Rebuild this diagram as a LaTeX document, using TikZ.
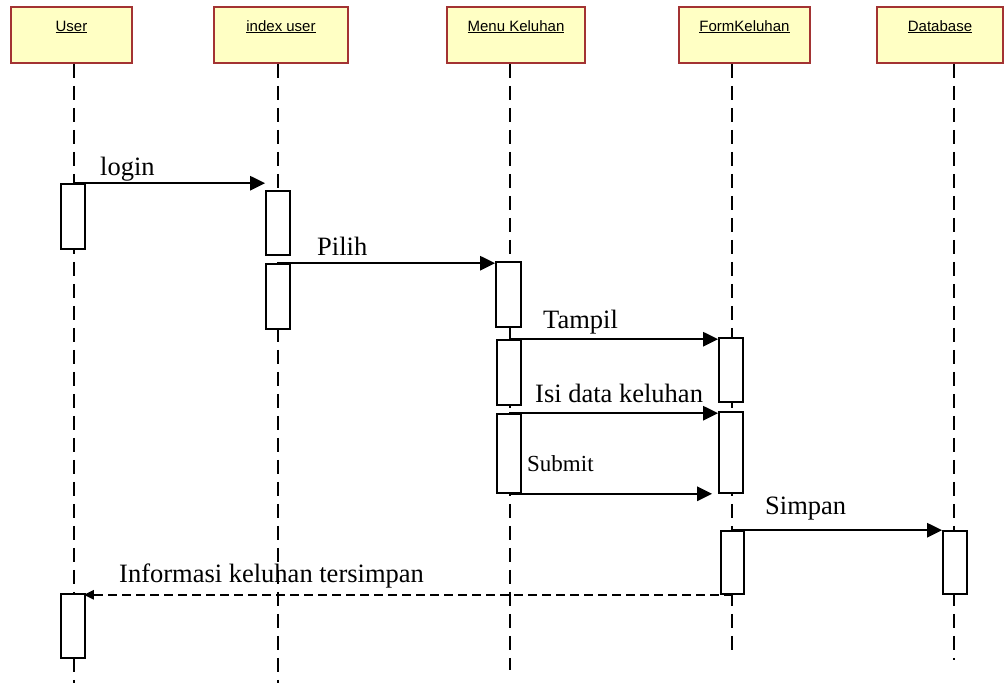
\documentclass[tikz,border=0pt]{standalone}
\usepackage{fontspec}
\setmainfont{Liberation Serif}
\newfontfamily\hdrfont{Liberation Sans}
\usetikzlibrary{arrows.meta}
\definecolor{hdrfill}{HTML}{FFFFC4}
\definecolor{hdrline}{HTML}{A33333}
\begin{document}
\begin{tikzpicture}[x=1pt,y=-1pt,
  header/.style={draw=hdrline, fill=hdrfill, line width=1.6pt, inner xsep=0pt, inner ysep=0pt,
    text height=24pt, text depth=32pt, anchor=base, font=\hdrfont\fontsize{15}{18}\selectfont},
  act/.style={draw, fill=white, line width=1.6pt, inner sep=0pt, minimum width=24pt},
  life/.style={line width=1.7pt, dash pattern=on 14pt off 8pt},
  msg/.style={line width=2.4pt, -{Triangle[length=15pt,width=14pt]}},
  ret/.style={line width=2.2pt, dash pattern=on 9pt off 5pt, -{Triangle[length=10pt,width=9pt]}},
  lbl/.style={anchor=base west, inner sep=0pt, font=\fontsize{26.5}{30}\selectfont}
]
\useasboundingbox (0,0) rectangle (1006,683);

% object headers
\node[header, minimum width=121pt] (user) at (71.5,31) {\underline{User}};
\node[header, minimum width=134pt] (index) at (281,31) {\underline{index user}};
\node[header, minimum width=138pt] (menu) at (516,31) {\underline{Menu Keluhan}};
\node[header, minimum width=131pt] (form) at (744.5,31) {\underline{FormKeluhan}};
\node[header, minimum width=126pt] (db) at (940,31) {\underline{Database}};

% lifelines
\coordinate (uBot) at (74,683);
\coordinate (iBot) at (278,683);
\coordinate (mBot) at (510,670);
\coordinate (fBot) at (732,651);
\coordinate (dBot) at (954,660);
\draw[life] (user.south -| uBot) -- (uBot);
\draw[life] (index.south -| iBot) -- (iBot);
\draw[life] (menu.south -| mBot) -- (mBot);
\draw[life] (form.south -| fBot) -- (fBot);
\draw[life] (db.south -| dBot) -- (dBot);

% activation bars
\node[act, minimum height=65pt] (ua1) at (73,216.5) {};
\node[act, minimum height=64pt] (ia1) at (278,223) {};
\node[act, minimum height=65pt] (ia2) at (278,296.5) {};
\node[act, minimum height=65pt, minimum width=25pt] (ma1) at (508.5,294.5) {};
\node[act, minimum height=65pt] (ma2) at (509,372.5) {};
\node[act, minimum height=79pt] (ma3) at (509,453.5) {};
\node[act, minimum height=64pt] (fa1) at (731,370) {};
\node[act, minimum height=81pt] (fa2) at (731,452.5) {};
\node[act, minimum height=63pt, minimum width=23pt] (fa3) at (732.5,562.5) {};
\node[act, minimum height=63pt] (da1) at (955,562.5) {};
\node[act, minimum height=64pt] (ua2) at (73,626) {};

% messages
\draw[msg] (ua1.north) -- (ua1.north -| ia1.west);
\draw[msg] (ia2.north) -- (ia2.north -| ma1.west);
\draw[msg] (ma2.north) -- (ma2.north -| fa1.west);
\draw[msg] (ma3.north) -- (ma3.north -| fa2.west);
\draw[msg, shorten >=6pt] (ma3.south) -- (ma3.south -| fa2.west);
\draw[msg] (fa3.north) -- (fa3.north -| da1.west);
\draw[ret, shorten >=-2pt] (fa3.south) -- (fa3.south -| ua2.east);

% message labels
\node[lbl] (tLogin) at (100,175) {login};
\node[lbl] (tPilih) at (317,255) {Pilih};
\node[lbl] (tTampil) at (543,328) {Tampil};
\node[lbl] (tIsi) at (535,402) {Isi data keluhan};
\node[lbl, font=\fontsize{23}{27}\selectfont] (tSubmit) at (527,471) {Submit};
\node[lbl] (tSimpan) at (765,514) {Simpan};
\node[lbl] (tInfo) at (119,582) {Informasi keluhan tersimpan};
\end{tikzpicture}
\end{document}
